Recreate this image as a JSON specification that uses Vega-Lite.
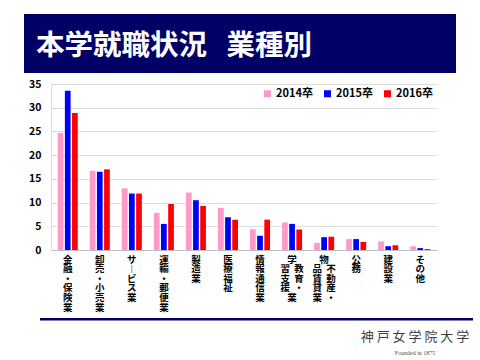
{
  "$schema": "https://vega.github.io/schema/vega-lite/v6.json",
  "background": "white",
  "padding": {"left": 24, "top": 14, "right": 0, "bottom": 0},
  "spacing": 6,
  "resolve": {"legend": {"color": "independent"}, "scale": {"color": "independent"}},
  "config": {"view": {"stroke": null}, "font": "Noto Sans CJK JP"},
  "datasets": {
    "bars": [
      {"industry": "金融・保険業", "year": "2014卒", "pct": 24.7},
      {"industry": "金融・保険業", "year": "2015卒", "pct": 33.6},
      {"industry": "金融・保険業", "year": "2016卒", "pct": 28.9},
      {"industry": "卸売・小売業", "year": "2014卒", "pct": 16.7},
      {"industry": "卸売・小売業", "year": "2015卒", "pct": 16.5},
      {"industry": "卸売・小売業", "year": "2016卒", "pct": 17.0},
      {"industry": "サービス業", "year": "2014卒", "pct": 13.0},
      {"industry": "サービス業", "year": "2015卒", "pct": 11.9},
      {"industry": "サービス業", "year": "2016卒", "pct": 11.9},
      {"industry": "運輸・郵便業", "year": "2014卒", "pct": 7.8},
      {"industry": "運輸・郵便業", "year": "2015卒", "pct": 5.5},
      {"industry": "運輸・郵便業", "year": "2016卒", "pct": 9.7},
      {"industry": "製造業", "year": "2014卒", "pct": 12.1},
      {"industry": "製造業", "year": "2015卒", "pct": 10.5},
      {"industry": "製造業", "year": "2016卒", "pct": 9.3},
      {"industry": "医療福祉", "year": "2014卒", "pct": 8.9},
      {"industry": "医療福祉", "year": "2015卒", "pct": 6.9},
      {"industry": "医療福祉", "year": "2016卒", "pct": 6.4},
      {"industry": "情報通信業", "year": "2014卒", "pct": 4.4},
      {"industry": "情報通信業", "year": "2015卒", "pct": 3.0},
      {"industry": "情報通信業", "year": "2016卒", "pct": 6.4},
      {"industry": "教育・学習支援業", "year": "2014卒", "pct": 5.8},
      {"industry": "教育・学習支援業", "year": "2015卒", "pct": 5.5},
      {"industry": "教育・学習支援業", "year": "2016卒", "pct": 4.3},
      {"industry": "不動産・物品賃貸業", "year": "2014卒", "pct": 1.5},
      {"industry": "不動産・物品賃貸業", "year": "2015卒", "pct": 2.7},
      {"industry": "不動産・物品賃貸業", "year": "2016卒", "pct": 2.8},
      {"industry": "公務", "year": "2014卒", "pct": 2.3},
      {"industry": "公務", "year": "2015卒", "pct": 2.3},
      {"industry": "公務", "year": "2016卒", "pct": 1.7},
      {"industry": "建設業", "year": "2014卒", "pct": 1.8},
      {"industry": "建設業", "year": "2015卒", "pct": 0.8},
      {"industry": "建設業", "year": "2016卒", "pct": 1.0},
      {"industry": "その他", "year": "2014卒", "pct": 0.8},
      {"industry": "その他", "year": "2015卒", "pct": 0.4},
      {"industry": "その他", "year": "2016卒", "pct": 0.2}
    ]
  },
  "vconcat": [
    {
      "width": 432,
      "height": 59,
      "data": {"values": [{}]},
      "mark": {"type": "rect", "color": "#000066"},
      "encoding": {},
      "title": {
        "text": "本学就職状況\u00a0\u00a0\u00a0業種別",
        "orient": "top",
        "anchor": "start",
        "offset": -69,
        "dx": 12,
        "baseline": "alphabetic",
        "fontSize": 28.5,
        "fontWeight": "bold",
        "color": "#FFFFFF",
        "font": "Noto Sans CJK JP"
      }
    },
    {
      "spacing": 0,
      "resolve": {"legend": {"color": "independent"}, "scale": {"color": "independent"}},
      "hconcat": [
        {
          "width": 1,
          "height": 1,
          "data": {"values": [{}]},
          "mark": {"type": "rect", "opacity": 0},
          "encoding": {}
        },
        {
          "width": 386,
          "height": 166,
          "data": {"name": "bars"},
          "mark": {"type": "bar"},
          "encoding": {
            "x": {
              "field": "industry",
              "type": "nominal",
              "sort": null,
              "scale": {"paddingInner": 0.375, "paddingOuter": 0.21},
              "axis": {
                "title": null,
                "labelAngle": 0,
                "ticks": false,
                "domainColor": "#BFBFBF",
                "labelExpr": "datum.label == '教育・学習支援業' ? ['学\u00a0\u00a0\u3000','習\u00a0\u00a0教','支\u00a0\u00a0育','援\u00a0\u00a0・','業\u00a0\u00a0\u3000'] : datum.label == '不動産・物品賃貸業' ? ['物\u00a0\u00a0\u3000','品\u00a0\u00a0不','賃\u00a0\u00a0動','貸\u00a0\u00a0産','業\u00a0\u00a0・'] : split(replace(datum.label, 'ー', '︱'), '')",
                "labelFontSize": 9.5,
                "labelFontWeight": "bold",
                "labelLineHeight": 9.6,
                "labelBaseline": "top",
                "labelPadding": 4,
                "labelColor": "#000000",
                "labelOverlap": false,
                "labelBound": false
              }
            },
            "xOffset": {
              "field": "year",
              "type": "nominal",
              "scale": {"paddingInner": 0.2, "paddingOuter": 0}
            },
            "y": {
              "field": "pct",
              "type": "quantitative",
              "scale": {"domain": [0, 35], "nice": false},
              "axis": {
                "title": null,
                "values": [0, 5, 10, 15, 20, 25, 30, 35],
                "grid": true,
                "gridColor": "#DCDCDC",
                "domainColor": "#D4DCE6",
                "ticks": false,
                "labelPadding": 10,
                "labelFontSize": 10.5,
                "labelFontWeight": "bold",
                "labelColor": "#000000",
                "minExtent": 26
              }
            },
            "color": {
              "field": "year",
              "type": "nominal",
              "scale": {"domain": ["2014卒", "2015卒", "2016卒"], "range": ["#FF99CC", "#0000FF", "#FF0000"]},
              "legend": {
                "title": null,
                "orient": "top-right",
                "direction": "horizontal",
                "symbolType": "square",
                "symbolSize": 49,
                "symbolStrokeWidth": 0,
                "labelFontSize": 11,
                "labelFontWeight": "bold",
                "labelColor": "#000000",
                "columnPadding": 9,
                "labelOffset": 3,
                "offset": 4,
                "padding": 0
              }
            }
          }
        }
      ]
    },
    {
      "spacing": 15,
      "hconcat": [
        {
          "width": 1,
          "height": 1,
          "data": {"values": [{}]},
          "mark": {"type": "rect", "opacity": 0},
          "encoding": {}
        },
        {
          "width": 433,
          "height": 2.5,
          "data": {"values": [{}]},
          "mark": {"type": "rect", "color": "#000066"},
          "encoding": {},
          "title": {
            "text": "神\u00a0戸\u00a0女\u00a0学\u00a0院\u00a0大\u00a0学",
            "subtitle": "Founded in 1875",
            "orient": "bottom",
            "anchor": "end",
            "align": "center",
            "dx": -58,
            "offset": 10,
            "fontSize": 13,
            "fontWeight": "normal",
            "color": "#404040",
            "font": "Noto Sans CJK JP",
            "subtitleFont": "Liberation Serif",
            "subtitleFontSize": 6,
            "subtitleColor": "#555555",
            "subtitlePadding": 6
          }
        }
      ]
    }
  ]
}
